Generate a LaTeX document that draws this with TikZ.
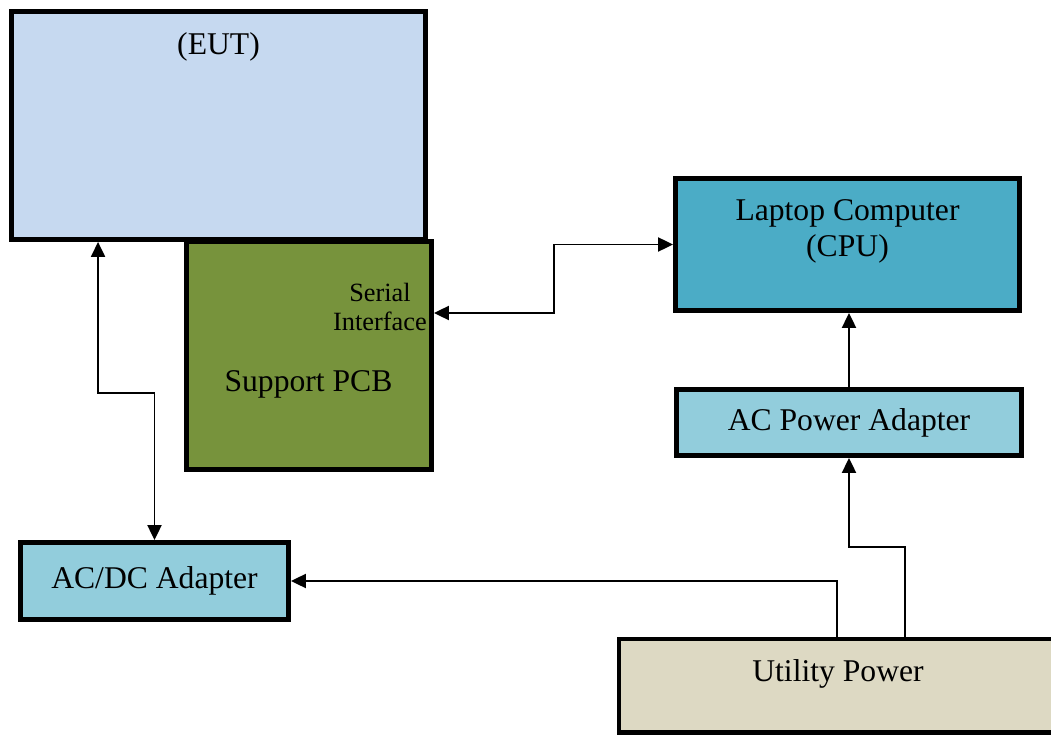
\documentclass[tikz,border=0pt]{standalone}
\usepackage{fontspec}
\setmainfont{Liberation Serif}
\usepackage{xcolor}
\usetikzlibrary{arrows.meta}

\definecolor{euthue}{HTML}{C6D9F0}
\definecolor{pcbgreen}{HTML}{77933C}
\definecolor{cpublue}{HTML}{4BACC6}
\definecolor{adapterblue}{HTML}{92CDDC}
\definecolor{utilitytan}{HTML}{DDD9C3}

\begin{document}
\begin{tikzpicture}[>={Triangle[length=8.5pt,width=8pt]},
  box/.style={draw=black, line width=2.8pt, rectangle, inner sep=0pt, align=center,
    font=\fontsize{18}{20.5}\selectfont},
  toptext/.style={label={[anchor=north, yshift=-0.34cm, align=center,
    font=\fontsize{18}{20.5}\selectfont]north:#1}},
  link/.style={line width=1pt}]
  % Page frame
  \useasboundingbox (0,0) rectangle (21.02,-14.7);
  \clip (0,0) rectangle (21.02,-14.7);

  % Device under test with its support board
  \node[box, fill=euthue, minimum width=8.28cm, minimum height=4.56cm,
    toptext={(EUT)}] (eut) at (4.37,-2.51) {};
  \node[box, fill=pcbgreen, minimum width=4.9cm, minimum height=4.56cm] (pcb) at (6.18,-7.11) {};
  \node[font=\fontsize{18}{20.5}\selectfont] (pcbname) at (6.17,-7.68) {Support PCB};
  \node[align=center, font=\fontsize{15}{17}\selectfont] (serial) at (7.6,-6.14) {Serial\\Interface};

  % Laptop side
  \node[box, fill=cpublue, minimum width=6.88cm, minimum height=2.64cm,
    toptext={Laptop Computer\\(CPU)}] (laptop) at (16.95,-4.89) {};
  \node[box, fill=adapterblue, minimum width=6.9cm, minimum height=1.32cm] (acpower) at (16.98,-8.45) {AC Power Adapter};

  % Power supplies
  \node[box, fill=adapterblue, minimum width=5.36cm, minimum height=1.54cm] (acdc) at (3.09,-11.62)
    {\raisebox{2pt}{AC/DC Adapter}};
  \node[box, fill=utilitytan, minimum width=11.62cm, minimum height=1.87cm,
    label={[anchor=north, xshift=-1.43cm, yshift=-0.34cm, font=\fontsize{18}{20.5}\selectfont]north:Utility Power}]
    (utility) at (18.19,-13.715) {};

  % Connections
  \draw[link, <->] ([xshift=1.78cm]eut.south west) |- ([yshift=2.94cm]acdc.north) -- (acdc.north);
  \draw[link, <->] ([yshift=0.85cm]pcb.east) -| ([xshift=-2.38cm]laptop.west) -- (laptop.west);
  \draw[link, ->] (acpower.north) -- (acpower.north |- laptop.south);
  \draw[link, ->] ([xshift=-0.09cm]utility.north) |- ([yshift=-1.78cm]acpower.south) -- (acpower.south);
  \draw[link, ->] ([xshift=-1.45cm]utility.north) |- (acdc.east);
\end{tikzpicture}
\end{document}
